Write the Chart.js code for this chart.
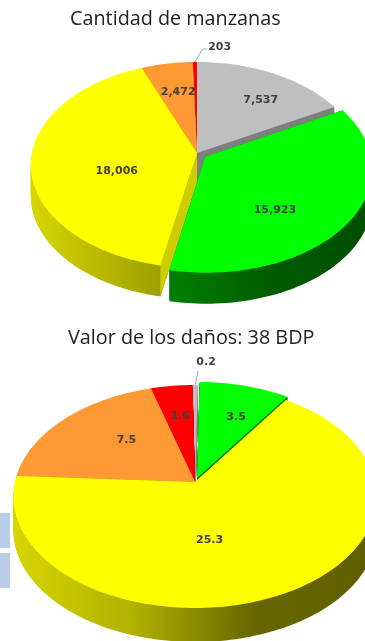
<!DOCTYPE html>
<html>
<head>
<meta charset="utf-8">
<script src="https://cdn.jsdelivr.net/npm/chart.js@4"></script>
<style>
  html, body { margin: 0; padding: 0; background: #fff; overflow: hidden; }
  #page { position: relative; width: 365px; height: 641px; overflow: hidden; filter: blur(0.4px); }
  canvas { position: absolute; left: 0; }
  .title { position: absolute; left: 0; font-family: "Open Sans", sans-serif; font-size: 19.8px; line-height: 26px; color: #222; white-space: nowrap; }
  .tab { position: absolute; left: 0; width: 10px; height: 35px; background: #b9cde6; }
</style>
</head>
<body>
<div id="page">
  <div class="tab" style="top:513px"></div>
  <div class="tab" style="top:553px"></div>
  <canvas id="applesChart" style="top:0"></canvas>
  <canvas id="damageChart" style="top:320px"></canvas>
  <div class="title" id="applesTitle" style="left:70px;top:5px"></div>
  <div class="title" id="damageTitle" style="left:68px;top:324px"></div>
</div>
<script>
// top pie
const appleTitle = 'Cantidad de manzanas';
const appleCategories = ['Gris', 'Verde', 'Amarillo', 'Naranja', 'Rojo'];
const appleValues = [7537, 15923, 18006, 2472, 203];
const appleLabels = ['7,537', '15,923', '18,006', '2,472', '203'];

// bottom pie
const damageTitle = 'Valor de los daños: 38 BDP';
const damageCategories = ['Verde', 'Amarillo', 'Naranja', 'Rojo', 'Gris'];
const damageValues = [3.5, 25.3, 7.5, 1.6, 0.2];
const damageLabels = ['3.5', '25.3', '7.5', '1.6', '0.2'];

const palette = {
    Gris: {top: '#bfbfbf', face: '#7f7f7f', wall: ['#8c8c8c', '#7a7a7a']},
    Verde: {top: '#00ff00', face: '#007a00', wall: ['#008000', '#005c00', '#004d00']},
    Amarillo: {top: '#ffff00', face: '#cccc00', wall: ['#d6d600', '#8f8f00']},
    Naranja: {top: '#ff9933', face: '#b36b24', wall: ['#b36b24', '#b36b24']},
    Rojo: {top: '#ff0000', face: '#b30000', wall: ['#b30000', '#b30000']}
};

document.getElementById('applesTitle').textContent = appleTitle;
document.getElementById('damageTitle').textContent = damageTitle;

// perspective tilt: a,b are the half axes of the disc, k the foreshortening
function projector(el, tilt) {
    const R = el.outerRadius;
    return function (x, y) {
        const u = x / R, v = y / R;
        const s = 1 / (1 - tilt.k * v);
        return [el.x + tilt.a * u * s, el.y + tilt.b * v * s];
    };
}

function sliceOutline(el, tilt) {
    const project = projector(el, tilt);
    const mid = (el.startAngle + el.endAngle) / 2;
    const off = el.options.offset || 0;
    const ox = Math.cos(mid) * off, oy = Math.sin(mid) * off;
    const pts = [project(ox, oy)];
    const n = Math.max(2, Math.ceil((el.endAngle - el.startAngle) * 40));
    for (let i = 0; i <= n; i++) {
        const t = el.startAngle + (el.endAngle - el.startAngle) * i / n;
        pts.push(project(ox + Math.cos(t) * el.outerRadius, oy + Math.sin(t) * el.outerRadius));
    }
    return pts;
}

function fillPoly(ctx, pts, dy, style) {
    ctx.beginPath();
    pts.forEach((p, i) => i ? ctx.lineTo(p[0], p[1] + dy) : ctx.moveTo(p[0], p[1] + dy));
    ctx.closePath();
    ctx.fillStyle = style;
    ctx.fill();
}

const tiltedPie = {
    id: 'tiltedPie',
    beforeDatasetDraw(chart, args, opts) {
        const ctx = chart.ctx;
        const arcs = args.meta.data;
        const order = arcs.map((el, i) => i).sort((p, q) =>
            Math.sin((arcs[p].startAngle + arcs[p].endAngle) / 2) - Math.sin((arcs[q].startAngle + arcs[q].endAngle) / 2));

        order.forEach(i => {
            const el = arcs[i];
            const colors = palette[chart.data.labels[i]];
            const pts = sliceOutline(el, opts.tilt);
            const xs = pts.map(p => p[0]);
            const grad = ctx.createLinearGradient(Math.min(...xs), 0, Math.max(...xs), 0);
            const wall = (opts.walls && opts.walls[chart.data.labels[i]]) || colors.wall;
            wall.forEach((c, j) => grad.addColorStop(j / (wall.length - 1), c));
            // side wall, sweep the slice downwards
            for (let dy = opts.depth; dy > 0; dy--) {
                fillPoly(ctx, pts, dy, grad);
            }
            // flat cut faces
            const last = pts[pts.length - 1];
            [pts[1], last].forEach(p => {
                fillPoly(ctx, [pts[0], p, [p[0], p[1] + opts.depth], [pts[0][0], pts[0][1] + opts.depth]], 0, colors.face);
            });
            fillPoly(ctx, pts, 0, colors.top);
        });
        return false;
    },
    // returning false above skips afterDatasetDraw, so the labels go here
    afterDatasetsDraw(chart, args, opts) {
        const ctx = chart.ctx;
        const arcs = chart.getDatasetMeta(0).data;
        arcs.forEach((el, i) => {
            const project = projector(el, opts.tilt);
            const mid = (el.startAngle + el.endAngle) / 2;
            const off = el.options.offset || 0;
            const f = el.outerRadius * 0.6 + off;
            const p = project(Math.cos(mid) * f, Math.sin(mid) * f);
            const x = p[0] + opts.labelNudge[i][0], y = p[1] + opts.labelNudge[i][1];

            if (opts.leader && opts.leader.index === i) {
                const edge = project(Math.cos(mid) * el.outerRadius, Math.sin(mid) * el.outerRadius);
                ctx.beginPath();
                ctx.moveTo(edge[0], edge[1]);
                opts.leader.path.forEach(q => ctx.lineTo(x + q[0], y + q[1]));
                ctx.strokeStyle = '#a6a6a6';
                ctx.lineWidth = 1;
                ctx.stroke();
            }

            ctx.font = 'bold 11px "DejaVu Sans", sans-serif';
            ctx.textAlign = 'center';
            ctx.textBaseline = 'middle';
            ctx.fillStyle = '#404040';
            ctx.fillText(opts.labels[i], x, y);
        });
    }
};

function drawPie(id, width, height, categories, values, offsets, padding, rotation, pieOpts) {
    const canvas = document.getElementById(id);
    canvas.style.width = width + 'px';
    canvas.style.height = height + 'px';
    new Chart(canvas, {
        type: 'pie',
        data: {
            labels: categories,
            datasets: [{
                data: values,
                offset: offsets,
                borderWidth: 0,
                backgroundColor: categories.map(c => palette[c].top)
            }]
        },
        options: {
            responsive: false,
            animation: false,
            rotation: rotation,
            layout: {padding: padding},
            plugins: {
                legend: {display: false},
                tooltip: {enabled: false},
                tiltedPie: pieOpts
            }
        },
        plugins: [tiltedPie]
    });
}

document.getElementById('applesChart').width = 365;
document.getElementById('applesChart').height = 320;
document.getElementById('damageChart').width = 365;
document.getElementById('damageChart').height = 321;

drawPie('applesChart', 365, 320, appleCategories, appleValues, [0, 9, 0, 0, 0],
    {left: 29, bottom: 14}, 0,
    {
        tilt: {a: 165, b: 101.6, k: 0.1165},
        depth: 31,
        labels: appleLabels,
        labelNudge: [[16, -3], [-14, 15], [19, 13], [0, -5], [24, -49]],
        leader: {index: 4, path: [[-17, 2], [-13, 2]]}
    });

drawPie('damageChart', 365, 321, damageCategories, damageValues, [6, 0, 0, 0, 0],
    {left: 25, top: 3}, 1,
    {
        tilt: {a: 180, b: 109.6, k: 0.13},
        depth: 34,
        labels: damageLabels,
        labelNudge: [[9, -3], [-37, -5], [12, -3], [0, -5], [11, -59]],
        leader: {index: 4, path: [[-8, 9]]},
        walls: {Amarillo: ['#d6d600', '#b0b000', '#666600', '#5f5f00']}
    });
</script>
</body>
</html>
